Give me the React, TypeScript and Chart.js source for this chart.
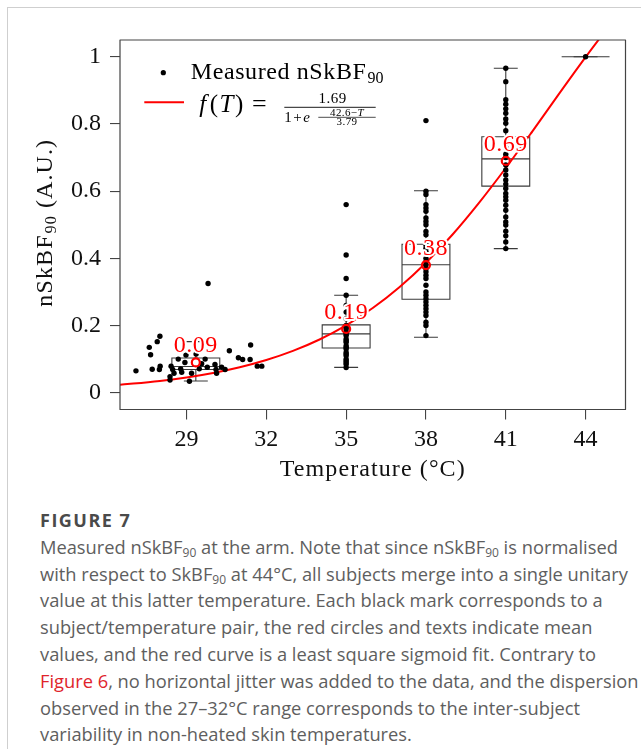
import React, { useEffect, useRef } from 'react';
import { Chart, registerables } from 'chart.js';

Chart.register(...registerables);

// ---------- data ----------
const xTickValues = [29, 32, 35, 38, 41, 44];
const xTickLabels = ['29', '32', '35', '38', '41', '44'];
const yTickValues = [0, 0.2, 0.4, 0.6, 0.8, 1];
const yTickLabels = ['0', '0.2', '0.4', '0.6', '0.8', '1'];

// non-heated (baseline) skin temperatures and values
const baselineTemps = [
  27.1, 27.6, 27.65, 27.9, 28.0, 27.71, 27.98, 28.01, 28.38, 28.42, 28.48, 28.38, 28.53,
  28.69, 28.78, 28.82, 28.94, 28.98, 29.11, 29.19, 29.36, 29.48, 29.57, 29.7, 29.78,
  30.07, 30.11, 30.13, 30.32, 30.45, 30.61, 30.95, 31.11, 31.41, 31.39, 31.66, 31.83, 29.81,
];
const baselineValues = [
  0.065, 0.135, 0.113, 0.152, 0.168, 0.07, 0.069, 0.079, 0.048, 0.079, 0.069, 0.038, 0.058,
  0.1, 0.071, 0.061, 0.09, 0.112, 0.034, 0.058, 0.115, 0.071, 0.086, 0.1, 0.076,
  0.084, 0.069, 0.058, 0.076, 0.069, 0.125, 0.104, 0.099, 0.142, 0.099, 0.079, 0.079, 0.325,
];

const heatedTemps = [35, 38, 41, 44];
const values35 = [
  0.56, 0.41, 0.34, 0.29, 0.26, 0.24, 0.22, 0.2, 0.195, 0.19, 0.18, 0.175, 0.17, 0.16,
  0.155, 0.15, 0.14, 0.135, 0.13, 0.12, 0.115, 0.11, 0.1, 0.095, 0.09, 0.085, 0.075,
];
const values38 = [
  0.81, 0.6, 0.59, 0.56, 0.55, 0.54, 0.52, 0.51, 0.5, 0.48, 0.47, 0.44, 0.43, 0.42, 0.4,
  0.39, 0.38, 0.37, 0.36, 0.35, 0.34, 0.32, 0.3, 0.29, 0.28, 0.27, 0.26, 0.25, 0.24, 0.23,
  0.21, 0.2, 0.17,
];
const values41 = [
  0.966, 0.926, 0.872, 0.859, 0.845, 0.832, 0.815, 0.802, 0.78, 0.75, 0.73, 0.71, 0.7,
  0.678, 0.663, 0.648, 0.633, 0.621, 0.608, 0.593, 0.583, 0.573, 0.558, 0.543, 0.523,
  0.508, 0.499, 0.481, 0.467, 0.449, 0.429,
];
const values44 = [1];
const heatedValues = [values35, values38, values41, values44];

// box plot statistics
const boxPositions = [29.35, 35, 38, 41, 44];
const whiskerLow = [0.035, 0.0755, 0.165, 0.429, 1];
const quartile1 = [0.069, 0.133, 0.278, 0.615, 1];
const medians = [0.078, 0.175, 0.381, 0.696, 1];
const quartile3 = [0.1035, 0.202, 0.442, 0.762, 1];
const whiskerHigh = [0.152, 0.29, 0.601, 0.966, 1];

// means
const meanTemps = [29.35, 35, 38, 41];
const meanValues = [0.09, 0.19, 0.38, 0.69];
const meanLabels = ['0.09', '0.19', '0.38', '0.69'];

// sigmoid fit curve
const curveTemps = [26.5, 27, 28, 29, 30, 31, 32, 33, 34, 35, 36, 37, 38, 39, 40, 41, 42, 43, 44, 45];
const curveValues = [
  0.0238, 0.0271, 0.0351, 0.0454, 0.0587, 0.0757, 0.0972, 0.1244, 0.1584, 0.2005, 0.252,
  0.314, 0.387, 0.471, 0.566, 0.669, 0.778, 0.8896, 0.999, 1.104,
];

// ---------- style ----------
const SERIF = '"Liberation Serif", "Times New Roman", serif';
const FS = 23;
const BOX_HALF = 0.9;
const CAP_HALF = 0.45;
const RED = '#ff0000';

const overlayPlugin = {
  id: 'overlay',
  beforeDatasetsDraw(chart: any) {
    const { ctx, chartArea: ca } = chart;
    const x = chart.scales.x;
    const y = chart.scales.y;
    ctx.save();
    ctx.beginPath();
    ctx.rect(ca.left, ca.top, ca.right - ca.left, ca.bottom - ca.top);
    ctx.clip();
    ctx.strokeStyle = '#3a3a3a';
    ctx.lineWidth = 1.1;
    for (let i = 0; i < boxPositions.length; i++) {
      const p = boxPositions[i];
      const cx = x.getPixelForValue(p);
      const bl = x.getPixelForValue(p - BOX_HALF);
      const br = x.getPixelForValue(p + BOX_HALF);
      const cl = x.getPixelForValue(p - CAP_HALF);
      const cr = x.getPixelForValue(p + CAP_HALF);
      const yLo = y.getPixelForValue(whiskerLow[i]);
      const yQ1 = y.getPixelForValue(quartile1[i]);
      const yMed = y.getPixelForValue(medians[i]);
      const yQ3 = y.getPixelForValue(quartile3[i]);
      const yHi = y.getPixelForValue(whiskerHigh[i]);
      ctx.beginPath();
      ctx.moveTo(cx, yQ1); ctx.lineTo(cx, yLo);
      ctx.moveTo(cl, yLo); ctx.lineTo(cr, yLo);
      ctx.moveTo(cx, yQ3); ctx.lineTo(cx, yHi);
      ctx.moveTo(cl, yHi); ctx.lineTo(cr, yHi);
      ctx.stroke();
      ctx.beginPath();
      ctx.rect(bl, yQ3, br - bl, yQ1 - yQ3);
      ctx.moveTo(bl, yMed); ctx.lineTo(br, yMed);
      ctx.stroke();
    }
    ctx.restore();
  },
  afterDatasetsDraw(chart: any) {
    const { ctx, chartArea: ca } = chart;
    const x = chart.scales.x;
    const y = chart.scales.y;
    ctx.save();
    // mean labels with white halo
    ctx.font = `24px ${SERIF}`;
    ctx.letterSpacing = '0.5px';
    ctx.textAlign = 'center';
    ctx.textBaseline = 'alphabetic';
    ctx.lineJoin = 'round';
    for (let i = 0; i < meanTemps.length; i++) {
      const px = x.getPixelForValue(meanTemps[i]);
      const py = y.getPixelForValue(meanValues[i]) - 10;
      ctx.strokeStyle = '#ffffff';
      ctx.lineWidth = 4;
      ctx.strokeText(meanLabels[i], px, py);
      ctx.fillStyle = RED;
      ctx.fillText(meanLabels[i], px, py);
    }
    ctx.letterSpacing = '0px';
    // frame
    ctx.strokeStyle = '#444';
    ctx.lineWidth = 1.2;
    ctx.strokeRect(ca.left, ca.top, ca.right - ca.left, ca.bottom - ca.top);

    // legend
    const L = ca.left;
    const T = ca.top;
    ctx.fillStyle = '#000';
    ctx.beginPath();
    ctx.arc(L + 43.3, T + 32.7, 2.6, 0, Math.PI * 2);
    ctx.fill();
    ctx.textAlign = 'left';
    ctx.font = `${FS + 1}px ${SERIF}`;
    ctx.letterSpacing = '0.6px';
    const t1 = 'Measured nSkBF';
    ctx.fillText(t1, L + 70.7, T + 39.3);
    const w1 = ctx.measureText(t1).width;
    ctx.letterSpacing = '0px';
    ctx.font = `16px ${SERIF}`;
    ctx.fillText('90', L + 70.7 + w1 + 1, T + 43);

    ctx.strokeStyle = RED;
    ctx.lineWidth = 2;
    ctx.beginPath();
    ctx.moveTo(L + 24.3, T + 62.3);
    ctx.lineTo(L + 64, T + 62.3);
    ctx.stroke();

    let cx = L + 79.3;
    const base = T + 72;
    const pieces: [string, boolean][] = [['f', true], ['(', false], ['T', true], [')', false]];
    ctx.fillStyle = '#000';
    for (const [s, it] of pieces) {
      ctx.font = `${it ? 'italic ' : ''}${FS + 2}px ${SERIF}`;
      ctx.fillText(s, cx, base);
      cx += ctx.measureText(s).width + (s === 'f' ? 3.5 : 1.5);
    }
    ctx.font = `${FS + 3}px ${SERIF}`;
    ctx.fillText('=', L + 132, base);
    // fraction
    const barL = L + 164.3;
    const barR = L + 255.7;
    ctx.strokeStyle = '#000';
    ctx.lineWidth = 0.9;
    ctx.beginPath();
    ctx.moveTo(barL, T + 67.3);
    ctx.lineTo(barR, T + 67.3);
    ctx.stroke();
    ctx.textAlign = 'center';
    ctx.font = `15px ${SERIF}`;
    ctx.letterSpacing = '0.5px';
    ctx.fillText('1.69', L + 212.5, T + 63);
    ctx.letterSpacing = '0px';
    ctx.textAlign = 'left';
    ctx.fillText('1', barL, T + 82);
    const w1d = ctx.measureText('1').width;
    ctx.fillText('+', barL + w1d + 1.5, T + 82);
    const wp = ctx.measureText('+').width;
    ctx.font = `italic 15px ${SERIF}`;
    ctx.fillText('e', barL + w1d + wp + 3, T + 82);
    // exponent fraction
    ctx.lineWidth = 0.7;
    ctx.beginPath();
    ctx.moveTo(L + 198.3, T + 77.3);
    ctx.lineTo(L + 255.7, T + 77.3);
    ctx.stroke();
    ctx.font = `11px ${SERIF}`;
    ctx.letterSpacing = '0.4px';
    const numA = '42.6\u2212';
    const wA = ctx.measureText(numA).width;
    ctx.font = `italic 11px ${SERIF}`;
    const wT = ctx.measureText('T').width;
    const startN = L + 227 - (wA + wT) / 2;
    ctx.textAlign = 'left';
    ctx.font = `11px ${SERIF}`;
    ctx.fillText(numA, startN, T + 75.5);
    ctx.font = `italic 11px ${SERIF}`;
    ctx.fillText('T', startN + wA, T + 75.5);
    ctx.textAlign = 'center';
    ctx.font = `11px ${SERIF}`;
    ctx.fillText('3.79', L + 227, T + 85);
    ctx.letterSpacing = '0px';
    ctx.restore();
  },
  afterDraw(chart: any) {
    const { ctx, chartArea: ca } = chart;
    ctx.save();
    ctx.fillStyle = '#111';
    // x title
    ctx.font = `${FS + 1}px ${SERIF}`;
    ctx.letterSpacing = '1.1px';
    ctx.textAlign = 'center';
    ctx.textBaseline = 'alphabetic';
    ctx.fillText('Temperature (\u00B0C)', (ca.left + ca.right) / 2, 476);
    // y title (rotated) with subscript
    ctx.translate(52, (ca.top + ca.bottom) / 2 - 2);
    ctx.rotate(-Math.PI / 2);
    ctx.font = `${FS + 1}px ${SERIF}`;
    const a = 'nSkBF';
    const b = ' (A.U.)';
    const wa = ctx.measureText(a).width;
    const wb = ctx.measureText(b).width;
    ctx.font = `16px ${SERIF}`;
    const ws = ctx.measureText('90').width + 1;
    const total = wa + ws + wb;
    let sx = -total / 2;
    ctx.textAlign = 'left';
    ctx.font = `${FS + 1}px ${SERIF}`;
    ctx.fillText(a, sx, 0);
    sx += wa;
    ctx.font = `16px ${SERIF}`;
    ctx.fillText('90', sx + 1, 4);
    sx += ws;
    ctx.font = `${FS + 1}px ${SERIF}`;
    ctx.fillText(b, sx, 0);
    ctx.restore();
  },
};

export default function App() {
  const ref = useRef<HTMLCanvasElement | null>(null);

  useEffect(() => {
    if (!ref.current) return;
    const points: { x: number; y: number }[] = [];
    baselineTemps.forEach((t, i) => points.push({ x: t, y: baselineValues[i] }));
    heatedTemps.forEach((t, g) => heatedValues[g].forEach((v) => points.push({ x: t, y: v })));

    const chart = new Chart(ref.current, {
      type: 'scatter',
      data: {
        datasets: [
          {
            type: 'scatter',
            label: 'means',
            data: meanTemps.map((t, i) => ({ x: t, y: meanValues[i] })),
            pointRadius: 4,
            pointBorderWidth: 2.2,
            pointBackgroundColor: 'rgba(0,0,0,0)',
            pointBorderColor: RED,
            order: 1,
          },
          {
            type: 'scatter',
            label: 'Measured',
            data: points,
            pointRadius: 2.7,
            pointBorderWidth: 0,
            pointBackgroundColor: '#000',
            order: 2,
          },
          {
            type: 'line',
            label: 'fit',
            data: curveTemps.map((t, i) => ({ x: t, y: curveValues[i] })),
            borderColor: RED,
            borderWidth: 2,
            pointRadius: 0,
            cubicInterpolationMode: 'monotone',
            fill: false,
            order: 3,
          },
        ],
      },
      options: {
        responsive: false,
        animation: false,
        events: [],
        layout: { padding: { left: 0, top: 40, right: 15.5, bottom: 40.5 } },
        plugins: { legend: { display: false }, tooltip: { enabled: false } },
        scales: {
          x: {
            type: 'linear',
            min: 26.5,
            max: 45.5,
            afterFit: (s: any) => { s.height = 50; },
            afterBuildTicks: (s: any) => { s.ticks = xTickValues.map((v) => ({ value: v })); },
            border: { display: false },
            grid: { display: true, drawOnChartArea: false, drawTicks: true, tickLength: 10, color: '#444', lineWidth: 1.1 },
            ticks: {
              padding: 6,
              color: '#111',
              font: { family: SERIF, size: FS + 1 },
              maxRotation: 0,
              callback: (v: any) => xTickLabels[xTickValues.indexOf(Number(v))] ?? '',
            },
          },
          y: {
            type: 'linear',
            min: -0.05,
            max: 1.05,
            afterFit: (s: any) => { s.width = 120; },
            afterBuildTicks: (s: any) => { s.ticks = yTickValues.map((v) => ({ value: v })); },
            border: { display: false },
            grid: { display: true, drawOnChartArea: false, drawTicks: true, tickLength: 10, color: '#444', lineWidth: 1.1 },
            ticks: {
              padding: 9,
              color: '#111',
              font: { family: SERIF, size: FS + 1 },
              callback: (v: any) => yTickLabels[yTickValues.indexOf(Number(v))] ?? '',
            },
          },
        },
      },
      plugins: [overlayPlugin],
    });
    return () => chart.destroy();
  }, []);

  const cap: React.CSSProperties = {
    position: 'absolute',
    left: 40,
    top: 507,
    fontFamily: '"Open Sans", "Noto Sans", sans-serif',
    fontSize: 18.3,
    lineHeight: '26.8px',
    color: '#5e5e5e',
    whiteSpace: 'nowrap',
  };
  const sub: React.CSSProperties = { fontSize: 12, verticalAlign: '-3px', lineHeight: 0 };

  return (
    <div style={{ position: 'absolute', left: 0, top: 0, width: 641, height: 749, background: '#fff', overflow: 'hidden' }}>
      <div style={{ position: 'absolute', left: 7, top: 7, width: 640, height: 750, borderLeft: '1px solid #cfcfcf', borderTop: '1px solid #cfcfcf' }} />
      <canvas ref={ref} width={641} height={500} style={{ position: 'absolute', left: 0, top: 0, display: 'block' }} />
      <div style={cap}>
        <div style={{ fontWeight: 700, color: '#4a4a4a', fontSize: 18, letterSpacing: '1.5px' }}>FIGURE 7</div>
        <div>Measured nSkBF<span style={sub}>90</span> at the arm. Note that since nSkBF<span style={sub}>90</span> is normalised</div>
        <div>with respect to SkBF<span style={sub}>90</span> at 44°C, all subjects merge into a single unitary</div>
        <div>value at this latter temperature. Each black mark corresponds to a</div>
        <div>subject/temperature pair, the red circles and texts indicate mean</div>
        <div>values, and the red curve is a least square sigmoid fit. Contrary to</div>
        <div><span style={{ color: '#e0242b' }}>Figure 6</span>, no horizontal jitter was added to the data, and the dispersion</div>
        <div>observed in the 27–32°C range corresponds to the inter-subject</div>
        <div>variability in non-heated skin temperatures.</div>
      </div>
    </div>
  );
}
